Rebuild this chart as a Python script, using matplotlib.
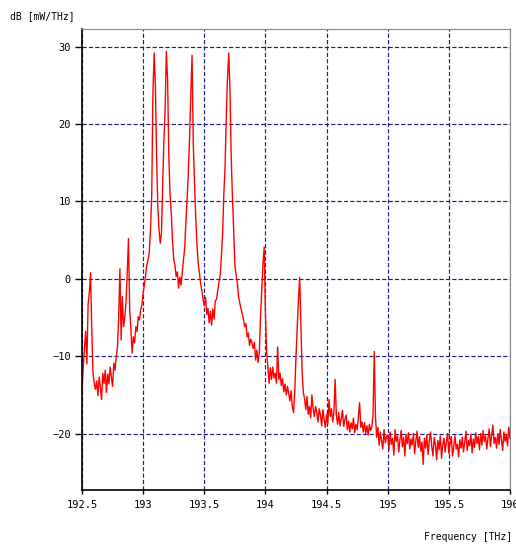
import numpy as np
import matplotlib
matplotlib.use('Agg')
import matplotlib.pyplot as plt

# spectrum, one value every 0.01 THz from 192.50 to 196.00
f_start = 192.5
f_step = 0.01
db = [
    -14.5, -11.5, -9.0, -6.8, -11.0, -3.2, -1.8, 0.8, -6.6, -12.2,      # 192.5
    -13.5, -14.3, -13.2, -15.1, -12.7, -14.0, -15.6, -12.2, -13.5, -11.8,
    -14.7, -12.3, -13.6, -11.4, -12.7, -13.9, -10.9, -11.8, -10.1, -8.8,
    -4.9, 1.3, -7.9, -2.3, -6.2, -5.0, -3.0, 0.8, 5.2, -4.0,
    -6.6, -9.6, -7.5, -8.3, -6.2, -6.8, -4.9, -5.3, -4.0, -3.4,
    -1.8, -0.8, 0.5, 1.8, 2.5, 3.4, 6.3, 10.6, 24.0, 29.2,             # 193.0
    25.0, 15.8, 9.3, 6.3, 4.6, 6.0, 12.4, 18.0, 22.0, 29.4,
    25.7, 15.8, 11.0, 8.5, 5.0, 2.5, 1.8, 0.3, 0.9, -1.2,
    0.2, -0.8, 0.9, 2.5, 4.0, 7.5, 10.5, 14.0, 18.5, 24.0,
    28.9, 17.5, 12.5, 8.0, 4.5, 2.0, 0.8, -0.6, -1.5, -2.7,
    -3.5, -2.4, -4.6, -3.8, -5.7, -4.2, -6.0, -3.9, -5.2, -2.8,         # 193.5
    -2.7, -1.5, -0.5, 0.5, 2.9, 6.0, 11.0, 14.5, 21.0, 26.0,
    29.2, 24.4, 16.0, 10.6, 6.5, 1.8, 0.5, -0.5, -2.3, -3.1,
    -3.8, -4.5, -5.2, -6.2, -5.8, -7.5, -7.0, -8.6, -7.8, -8.3,
    -9.0, -8.2, -10.5, -9.2, -10.8, -9.6, -4.9, -1.5, 2.0, 4.1,
    -4.5, -9.5, -11.4, -13.5, -11.5, -13.0, -11.4, -12.8, -12.2, -13.5,  # 194.0
    -8.8, -13.0, -12.2, -13.8, -12.9, -14.6, -13.6, -15.0, -13.9, -14.8,
    -15.8, -14.5, -16.5, -17.3, -14.5, -10.0, -6.2, -2.7, 0.2, -6.0,
    -12.0, -14.7, -15.5, -16.9, -15.2, -17.5, -16.5, -18.0, -15.0, -16.8,
    -17.8, -16.5, -17.2, -18.5, -16.8, -17.6, -19.0, -16.9, -18.2, -19.2,
    -17.5, -18.8, -15.6, -17.8, -16.8, -18.5, -17.2, -13.0, -17.6, -18.8,  # 194.5
    -17.3, -19.0, -18.0, -17.0, -19.1, -18.2, -17.6, -19.5, -18.4, -19.8,
    -18.6, -19.4, -18.0, -19.9, -18.8, -19.5, -17.9, -16.0, -19.2, -18.5,
    -19.8, -18.6, -20.0, -19.0, -20.2, -18.8, -19.6, -19.2, -17.5, -9.4,
    -17.8, -20.5, -19.2, -21.5, -19.8, -21.0, -22.0, -19.5, -21.2, -20.4,
    -20.2, -22.1, -19.8, -21.4, -20.6, -22.8, -19.5, -21.0, -20.3, -22.4,  # 195.0
    -20.8, -19.6, -21.7, -20.5, -22.9, -20.1, -21.3, -19.9, -22.0, -20.7,
    -21.5, -20.0, -22.6, -20.9, -19.7, -21.8, -20.4, -22.3, -21.1, -24.0,
    -20.6, -21.9, -20.2, -22.7, -21.0, -19.8, -21.6, -22.9, -20.5, -21.4,
    -23.4, -20.9, -22.1, -20.3, -23.2, -21.5, -20.6, -22.4, -21.1, -20.0,
    -22.6, -21.2, -20.4, -22.9, -21.7, -20.3, -22.0, -21.4, -23.0, -20.8,  # 195.5
    -21.9, -20.5, -22.4, -21.0, -19.7, -22.2, -20.9, -21.6, -20.1, -22.5,
    -20.7, -21.8, -19.9, -21.3, -20.4, -22.1, -20.0, -21.5, -19.6, -21.0,
    -20.3, -22.0, -20.6, -19.4, -21.7, -20.2, -18.9, -21.3, -20.5, -21.9,
    -20.0, -21.4, -19.5, -20.8, -22.2, -19.8, -21.0, -20.1, -21.6, -19.2,
    -20.6,                                                              # 196.0
]
freq = f_start + f_step * np.arange(len(db))

xticks = [192.5, 193, 193.5, 194, 194.5, 195, 195.5, 196]
xticklabels = ['192.5', '193', '193.5', '194', '194.5', '195', '195.5', '196']
yticks = [-20, -10, 0, 10, 20, 30]

plt.rcParams['font.family'] = ['DejaVu Sans Mono']

fig = plt.figure(figsize=(5.16, 5.44), dpi=100)
ax = fig.add_axes([82/516, 1-490/544, (510-82)/516, (490-29)/544])

ax.plot(freq, db, color='red', lw=1.0)

ax.set_xlim(192.5, 196)
ax.set_ylim(-27.3, 32.3)
ax.set_xticks(xticks)
ax.set_xticklabels(xticklabels)
ax.set_yticks(yticks)

ax.grid(True, color='#1e1e85', linestyle=(0, (3.6, 1.8)), lw=0.85)
ax.tick_params(axis='both', labelsize=7.5, colors='black', width=1)
ax.tick_params(axis='y', length=5, direction='out', pad=3)
ax.tick_params(axis='x', length=3, direction='out', pad=4)

ax.spines['left'].set_linewidth(1.2)
ax.spines['bottom'].set_linewidth(1.2)
ax.spines['top'].set_color('#888888')
ax.spines['right'].set_color('#888888')

fig.text(10/516, 1-16/544, 'dB [mW/THz]', fontsize=7, ha='left', va='center')
fig.text(512/516, 1-537/544, 'Frequency [THz]', fontsize=7, ha='right', va='center')

fig.savefig('out.png', dpi=100)
